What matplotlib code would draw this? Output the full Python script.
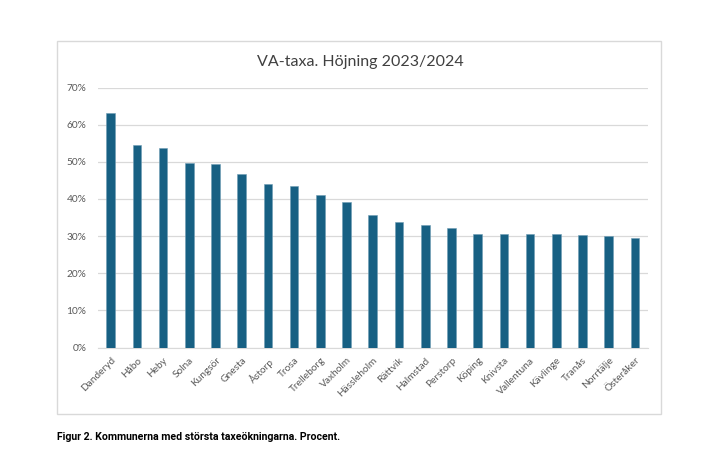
import matplotlib
matplotlib.use("Agg")
import matplotlib.pyplot as plt
from matplotlib.patches import Rectangle
from matplotlib.ticker import FuncFormatter, MultipleLocator

categories = ["Danderyd", "Håbo", "Heby", "Solna", "Kungsör", "Gnesta", "Åstorp",
              "Trosa", "Trelleborg", "Vaxholm", "Hässleholm", "Rättvik", "Halmstad",
              "Perstorp", "Köping", "Knivsta", "Vallentuna", "Kävlinge", "Tranås",
              "Norrtälje", "Österåker"]
values = [63.2, 54.6, 53.7, 49.7, 49.4, 46.8, 44.1, 43.6, 41.1, 39.2, 35.6,
          33.7, 32.9, 32.3, 30.6, 30.6, 30.5, 30.5, 30.2, 29.9, 29.5]
title = "VA-taxa. Höjning 2023/2024"
caption = "Figur 2. Kommunerna med största taxeökningarna. Procent."

plt.rcParams['font.family'] = ['Lato', 'DejaVu Sans']

fig = plt.figure(figsize=(7.08, 4.72), dpi=100)
W, H = 708, 472

# chart frame
fig.patches.append(Rectangle((57 / W, 1 - 414 / H), (661 - 57) / W, (414 - 41) / H,
                             transform=fig.transFigure, fill=False,
                             edgecolor="#d9d9d9", linewidth=1.0))

ax = fig.add_axes([97.6 / W, 1 - 347.5 / H, (648 - 97.6) / W, (347.5 - 87.5) / H])
x = range(len(categories))
ax.bar(x, values, width=0.33, color="#176083", edgecolor="#6f9db5", linewidth=0.4, zorder=3)
ax.set_xlim(-0.5, len(categories) - 0.5)
ax.set_ylim(0, 70)
ax.yaxis.set_major_locator(MultipleLocator(10))
ax.yaxis.set_major_formatter(FuncFormatter(lambda v, p: f"{int(round(v))}%"))
ax.grid(axis="y", color="#d9d9d9", linewidth=0.9, zorder=0)
for s in ax.spines.values():
    s.set_visible(False)
ax.spines["bottom"].set_visible(True)
ax.spines["bottom"].set_color("#d9d9d9")
ax.tick_params(axis="both", length=0, colors="#595959", labelsize=7.3)
ax.tick_params(axis="y", pad=8)
ax.set_xticks(list(x))
ax.set_xticklabels(categories, rotation=45, ha="right", rotation_mode="anchor")
ax.tick_params(axis="x", pad=6)

fig.text(360 / W, 1 - 62 / H, title, ha="center", va="center",
         fontsize=11.5, color="#404040")
fig.text(57 / W, 1 - 437 / H, caption, ha="left", va="center",
         fontsize=7.6, fontweight="bold", color="#000000", family=['Roboto', 'DejaVu Sans'])

fig.savefig("out.png", dpi=100)
